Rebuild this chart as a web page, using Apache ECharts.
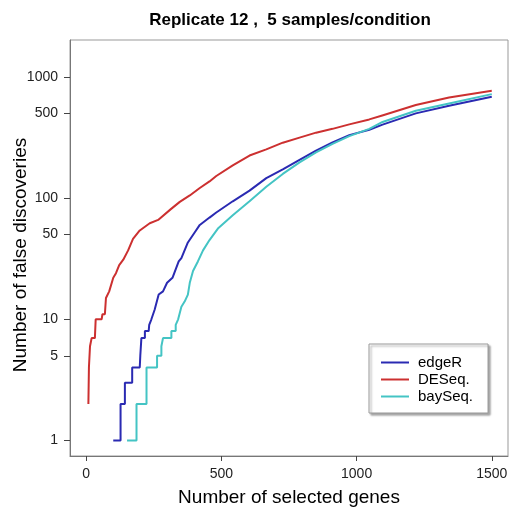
<!DOCTYPE html>
<html>
<head>
<meta charset="utf-8">
<script src="https://cdn.jsdelivr.net/npm/echarts@6/dist/echarts.min.js"></script>
<style>
  html, body { margin: 0; padding: 0; background: #fff; }
  #chart { width: 510px; height: 512px; }
</style>
</head>
<body>
<div id="chart"></div>
<script>
// [number of selected genes, number of false discoveries]
var edgeR = [
  [100, 1], [127, 1], [127, 2], [143, 2], [143, 3], [170, 3], [170, 4], [198, 4],
  [200, 5], [204, 7], [217, 7], [217, 8], [231, 8], [233, 9], [241, 10], [253, 12],
  [268, 16], [284, 17], [299, 20], [319, 22], [342, 30], [352, 32], [376, 43],
  [401, 52], [420, 60], [456, 69], [481, 76], [542, 94], [604, 115], [666, 146],
  [727, 172], [789, 206], [850, 246], [911, 288], [973, 330], [1047, 366], [1096, 403],
  [1219, 499], [1342, 577], [1500, 685]
];
var deseq = [
  [8, 2], [10, 4], [14, 6], [20, 7], [32, 7], [35, 10], [57, 10], [60, 11], [69, 11],
  [73, 15], [85, 17], [100, 22], [110, 24], [122, 28], [137, 31], [155, 37], [173, 46],
  [198, 54], [235, 62], [266, 66], [313, 81], [346, 93], [383, 105], [420, 121],
  [456, 137], [481, 152], [542, 186], [604, 224], [666, 252], [727, 286], [789, 315],
  [850, 346], [911, 372], [973, 405], [1047, 445], [1095, 480], [1219, 585],
  [1342, 675], [1500, 766]
];
var bayseq = [
  [151, 1], [186, 1], [186, 2], [223, 2], [223, 4], [262, 4], [262, 5], [278, 5],
  [278, 6], [284, 7], [315, 7], [315, 8], [331, 8], [331, 9], [340, 10], [352, 12.7],
  [364, 14], [376, 16], [383, 20], [395, 25], [413, 30], [432, 37], [456, 45],
  [487, 56], [542, 72], [604, 94], [666, 124], [727, 158], [789, 197], [850, 238],
  [911, 280], [973, 324], [1047, 372], [1096, 424], [1219, 525], [1342, 603], [1500, 719]
];
var xTicks = [0, 500, 1000, 1500];
var yTicks = [1, 5, 10, 50, 100, 500, 1000];

var chart = echarts.init(document.getElementById("chart"));
var font = "Liberation Sans";

function line(name, data, color) {
  return {
    name: name,
    type: "line",
    data: data,
    showSymbol: false,
    animation: false,
    lineStyle: { color: color, width: 2 },
    itemStyle: { color: color }
  };
}

chart.setOption({
  animation: false,
  title: {
    text: "Replicate 12 ,  5 samples/condition",
    left: 285,
    top: 7,
    textAlign: "center",
    textStyle: { fontFamily: font, fontSize: 17, fontWeight: "bold", color: "#000" }
  },
  legend: {
    orient: "vertical",
    left: 369,
    top: 344,
    padding: [11, 15, 9, 12],
    itemGap: 2,
    itemWidth: 28,
    itemHeight: 2,
    icon: "rect",
    backgroundColor: "#fff",
    borderColor: "#999",
    borderWidth: 1,
    shadowColor: "rgba(0,0,0,0.35)",
    shadowOffsetX: 2,
    shadowOffsetY: 2,
    shadowBlur: 2,
    textStyle: { fontFamily: font, fontSize: 15, color: "#000", padding: [0, 0, 0, 4] },
    data: ["edgeR", "DESeq.", "baySeq."]
  },
  grid: {
    left: 70, right: 2, top: 40, bottom: 56,
    outerBoundsMode: "none",
    containLabel: false,
    show: true, borderColor: "#999", borderWidth: 1
  },
  xAxis: {
    type: "value",
    min: -60, max: 1560,
    name: "Number of selected genes",
    nameLocation: "middle",
    nameGap: 32,
    nameMoveOverlap: false,
    nameTextStyle: { fontFamily: font, fontSize: 19, color: "#000" },
    axisLine: { show: true, onZero: false, lineStyle: { color: "#777" } },
    axisTick: { show: true, length: 5, customValues: xTicks, lineStyle: { color: "#444" } },
    axisLabel: {
      customValues: xTicks, fontFamily: font, fontSize: 14, color: "#222", margin: 11,
      formatter: function (v) { return String(v); }
    },
    splitLine: { show: false }
  },
  yAxis: {
    type: "log",
    logBase: 10,
    min: 0.746, max: 2010,
    name: "Number of false discoveries",
    nameLocation: "middle",
    nameGap: 40,
    nameMoveOverlap: false,
    nameTextStyle: { fontFamily: font, fontSize: 19, color: "#000", padding: [0, 14, 0, 0] },
    axisLine: { show: true, onZero: false, lineStyle: { color: "#777" } },
    axisTick: { show: true, length: 6, customValues: yTicks, lineStyle: { color: "#444" } },
    axisLabel: {
      customValues: yTicks, fontFamily: font, fontSize: 14, color: "#222", margin: 12,
      formatter: function (v) { return String(Math.round(v)); }
    },
    splitLine: { show: false }
  },
  series: [
    line("edgeR", edgeR, "#2a2ab2"),
    line("DESeq.", deseq, "#cc3030"),
    line("baySeq.", bayseq, "#44c4c4")
  ]
});
</script>
</body>
</html>
